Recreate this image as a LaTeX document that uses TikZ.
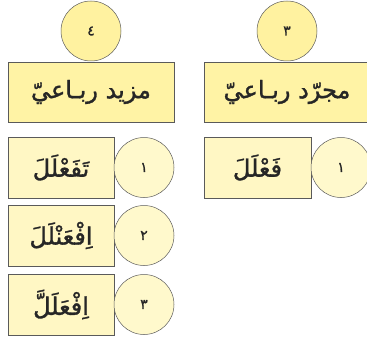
\documentclass[tikz,border=0pt]{standalone}
\usepackage{fontspec}
\TeXXeTstate=1
\newfontfamily\arabicfont[Script=Arabic]{DejaVu Sans}
\newfontfamily\arabicmed[Script=Arabic, FakeBold=1.3]{DejaVu Sans}
\definecolor{boxfill}{RGB}{255,243,165}
\definecolor{rowbox}{RGB}{255,247,196}
\definecolor{topcirc}{RGB}{255,242,160}
\definecolor{rowcirc}{RGB}{255,249,204}
\definecolor{edge}{RGB}{90,90,90}
\tikzset{
  labelbox/.style={draw=edge, line width=0.8pt, fill=boxfill, inner sep=0pt},
  labeltext/.style={inner sep=0pt, text=black!85, font=\arabicmed\fontsize{24}{28}\selectfont},
  numcirc/.style={circle, draw=edge, line width=0.5pt, inner sep=0pt, minimum size=60pt, text=black!85, font=\arabicmed\fontsize{14}{16}\selectfont},
}
\begin{document}
\begin{tikzpicture}[x=1pt,y=-1pt]
\useasboundingbox (0,0) rectangle (367,337);
\clip (0,0) rectangle (367,337);
% top circles
\node[numcirc, fill=topcirc] (c4) at (91,31) {\beginR ٤\endR};
\node[numcirc, fill=topcirc] (c3) at (287,31) {\beginR ٣\endR};
% top boxes
\node[labelbox, labeltext, minimum width=166pt, minimum height=60pt] (mazid) at (91,92) {\beginR مزيد ربـاعيّ\endR};
\node[labelbox, minimum width=168pt, minimum height=60pt] (mujarradbox) at (288,92) {};
\node[labeltext] (mujarrad) at (287,92) {\beginR مجرّد ربـاعيّ\endR};
% left rows
\node[labelbox, labeltext, fill=rowbox, minimum width=106pt, minimum height=61pt] (b1) at (61,167.5) {\beginR تَفَعْلَلَ\endR};
\node[numcirc, fill=rowcirc] (n1) at (144,167.5) {\beginR ١\endR};
\node[labelbox, labeltext, fill=rowbox, minimum width=106pt, minimum height=61pt] (b2) at (61,235.5) {\beginR اِفْعَنْلَلَ\endR};
\node[numcirc, fill=rowcirc] (n2) at (144,235.5) {\beginR ٢\endR};
\node[labelbox, labeltext, fill=rowbox, minimum width=106pt, minimum height=61pt] (b3) at (61,304.5) {\beginR اِفْعَلَلَّ\endR};
\node[numcirc, fill=rowcirc] (n3) at (144,304.5) {\beginR ٣\endR};
% right row
\node[labelbox, labeltext, fill=rowbox, minimum width=107pt, minimum height=61pt] (r1) at (257.5,167.5) {\beginR فَعْلَلَ\endR};
\node[numcirc, fill=rowcirc] (m1) at (341,167.5) {\beginR ١\endR};
\end{tikzpicture}
\end{document}
